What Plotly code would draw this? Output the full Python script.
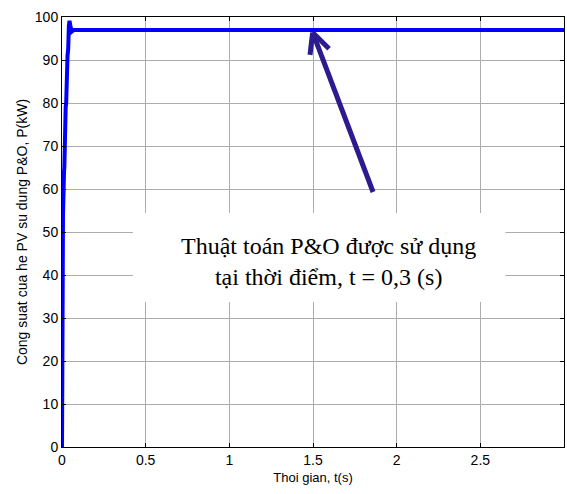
import plotly.graph_objects as go

# PV output power under P&O MPPT
time_s = [0, 0.004, 0.006, 0.012, 0.014, 0.022, 0.025, 0.033, 0.037, 0.041,
          0.045, 0.05, 0.058, 0.07, 3.0]
power_kw = [0, 53, 54, 64, 65, 79, 80, 91, 92.5, 98, 99.1, 98, 96.6, 97, 97]

x_ticks = [0, 0.5, 1, 1.5, 2, 2.5, 3]
x_tick_text = ["0", "0.5", "1", "1.5", "2", "2.5", "3"]
y_ticks = [0, 10, 20, 30, 40, 50, 60, 70, 80, 90, 100]

# callout arrow (tail -> tip) and its head wings, in data units
arrow_tail = (1.859, 59.3)
arrow_tip = (1.498, 96.4)
arrow_wings = [(1.482, 91.2), (1.596, 92.6)]

# callout text box extents
box_x = (0.424, 2.65)
box_y = (33.7, 54.4)
note_lines = ["Thuật toán P&O được sử dụng", "tại thời điểm, t = 0,3 (s)"]
note_pos = (1.59, 43.2)

arrow_color = "#2b1b8e"
grid_color = "#acacac"

fig = go.Figure()
fig.add_trace(go.Scatter(
    x=time_s, y=power_kw, mode="lines",
    line=dict(color="#0000ff", width=4),
    showlegend=False, hoverinfo="skip",
))

shapes = [
    dict(type="rect", xref="x", yref="y", x0=box_x[0], x1=box_x[1],
         y0=box_y[0], y1=box_y[1], fillcolor="white",
         line=dict(width=0), layer="above"),
    dict(type="line", xref="x", yref="y", x0=arrow_tail[0], y0=arrow_tail[1],
         x1=arrow_tip[0], y1=arrow_tip[1],
         line=dict(color=arrow_color, width=5), layer="above"),
]
for wx, wy in arrow_wings:
    shapes.append(dict(type="line", xref="x", yref="y", x0=wx, y0=wy,
                       x1=arrow_tip[0], y1=arrow_tip[1],
                       line=dict(color=arrow_color, width=5), layer="above"))

fig.update_layout(
    width=567, height=494,
    margin=dict(l=62, r=3, t=17, b=47),
    paper_bgcolor="white", plot_bgcolor="white",
    font=dict(family="Liberation Sans, Arial", size=14, color="black"),
    shapes=shapes,
    annotations=[dict(
        x=note_pos[0], y=note_pos[1], xref="x", yref="y",
        text="<br>".join(note_lines), showarrow=False,
        font=dict(family="Liberation Serif, Times New Roman", size=24,
                  color="black"),
        align="center",
    )],
)

fig.update_xaxes(
    range=[0, 3], tickvals=x_ticks, ticktext=x_tick_text,
    showgrid=True, gridcolor=grid_color, gridwidth=1,
    showline=True, linecolor="black", linewidth=1, mirror="ticks",
    ticks="inside", ticklen=4, tickcolor="black", zeroline=False,
    tickfont=dict(size=14),
    title=dict(text="Thoi gian, t(s)", font=dict(size=13), standoff=6),
)
fig.update_yaxes(
    range=[0, 100], tickvals=y_ticks,
    showgrid=True, gridcolor=grid_color, gridwidth=1,
    showline=True, linecolor="black", linewidth=1, mirror="ticks",
    ticks="inside", ticklen=4, tickcolor="black", zeroline=False,
    tickfont=dict(size=14),
    title=dict(text="Cong suat cua he PV su dung P&O, P(kW)",
               font=dict(size=14), standoff=3),
)

fig.write_html("out.html")
